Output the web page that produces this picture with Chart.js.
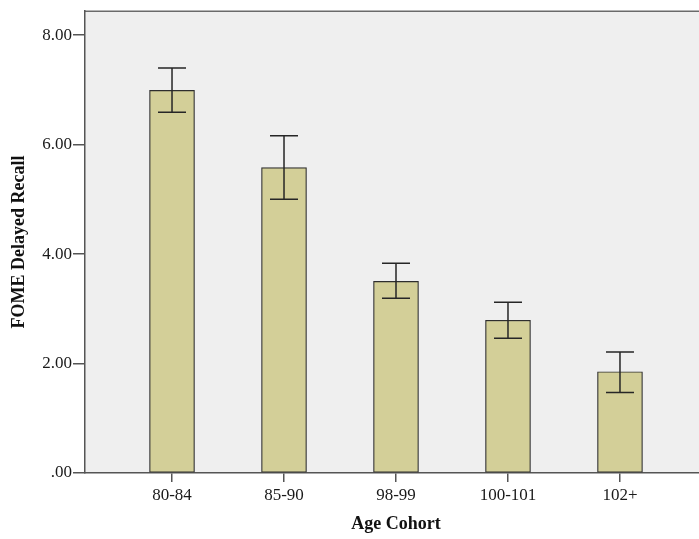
<!DOCTYPE html>
<html>
<head>
<meta charset="utf-8">
<script src="https://cdn.jsdelivr.net/npm/chart.js@4/dist/chart.umd.min.js"></script>
<style>
  html, body { margin: 0; padding: 0; background: #ffffff; overflow: hidden; width: 699px; height: 539px; }
  #wrap { width: 707px; height: 539px; }
</style>
</head>
<body>
<div id="wrap"><canvas id="c" width="707" height="539"></canvas></div>
<script>
// Age cohorts and mean delayed recall scores with their error bar bounds
const categories = ['80-84', '85-90', '98-99', '100-101', '102+'];
const means = [6.99, 5.58, 3.50, 2.79, 1.85];
const lowerBounds = [6.59, 5.00, 3.19, 2.46, 1.47];
const upperBounds = [7.40, 6.16, 3.83, 3.12, 2.21];
const yTicks = [0, 2, 4, 6, 8];

const FONT = "'Liberation Serif', 'Times New Roman', serif";

// Grey plot panel with a top border line
const panelPlugin = {
  id: 'panel',
  beforeDraw(chart) {
    const { ctx, chartArea: a } = chart;
    ctx.save();
    ctx.fillStyle = '#efefef';
    ctx.fillRect(a.left, a.top, a.right - a.left, a.bottom - a.top);
    ctx.strokeStyle = '#6a6a6a';
    ctx.lineWidth = 1.5;
    ctx.beginPath();
    ctx.moveTo(a.left, a.top);
    ctx.lineTo(a.right, a.top);
    ctx.stroke();
    ctx.restore();
  }
};

// Whiskers with caps drawn on top of the bars
const errorBarPlugin = {
  id: 'errorBars',
  afterDatasetsDraw(chart) {
    const { ctx, scales: { x, y } } = chart;
    const cap = 14;
    ctx.save();
    ctx.strokeStyle = '#262626';
    ctx.lineWidth = 1.5;
    categories.forEach((c, i) => {
      const px = x.getPixelForValue(i);
      const yLo = y.getPixelForValue(lowerBounds[i]);
      const yHi = y.getPixelForValue(upperBounds[i]);
      ctx.beginPath();
      ctx.moveTo(px, yLo);
      ctx.lineTo(px, yHi);
      ctx.moveTo(px - cap, yHi);
      ctx.lineTo(px + cap, yHi);
      ctx.moveTo(px - cap, yLo);
      ctx.lineTo(px + cap, yLo);
      ctx.stroke();
    });
    ctx.restore();
  }
};

new Chart(document.getElementById('c'), {
  type: 'bar',
  data: {
    datasets: [{
      data: categories.map((c, i) => ({ x: i, y: means[i] })),
      backgroundColor: '#d3cf98',
      borderColor: '#2e2e2e',
      borderWidth: 1.2,
      borderSkipped: false,
      barThickness: 45
    }]
  },
  options: {
    responsive: false,
    devicePixelRatio: 1,
    animation: false,
    layout: { padding: { top: 9, left: 0, right: 0, bottom: 0 } },
    plugins: { legend: { display: false }, tooltip: { enabled: false } },
    scales: {
      x: {
        type: 'linear',
        offset: false,
        min: -0.777,
        max: 4.777,
        afterBuildTicks(scale) { scale.ticks = categories.map((c, i) => ({ value: i })); },
        afterFit(scale) { scale.height = 66; },
        ticks: {
          autoSkip: false,
          maxRotation: 0,
          padding: 3,
          color: '#1a1a1a',
          font: { family: FONT, size: 17 },
          callback: (v) => categories[v]
        },
        grid: { display: true, offset: false, drawOnChartArea: false, tickLength: 9, color: '#555555', lineWidth: 1.5 },
        border: { display: true, color: '#555555', width: 1.5 },
        title: {
          display: true,
          text: 'Age Cohort',
          color: '#111111',
          font: { family: FONT, size: 18, weight: 'bold' },
          padding: { top: 0, bottom: 4 }
        }
      },
      y: {
        min: 0,
        max: 8.436,
        afterBuildTicks(scale) { scale.ticks = yTicks.map(v => ({ value: v })); },
        afterFit(scale) { scale.width = 85; },
        ticks: {
          padding: 1,
          color: '#1a1a1a',
          font: { family: FONT, size: 17 },
          callback: (v) => (v === 0 ? '.00' : v.toFixed(2))
        },
        grid: { display: true, drawOnChartArea: false, tickLength: 12, color: '#555555', lineWidth: 1.5 },
        border: { display: true, color: '#555555', width: 1.5 },
        title: {
          display: true,
          text: 'FOME Delayed Recall',
          color: '#111111',
          font: { family: FONT, size: 18, weight: 'bold' },
          padding: { top: 9, bottom: 0 }
        }
      }
    }
  },
  plugins: [panelPlugin, errorBarPlugin]
});
</script>
</body>
</html>
